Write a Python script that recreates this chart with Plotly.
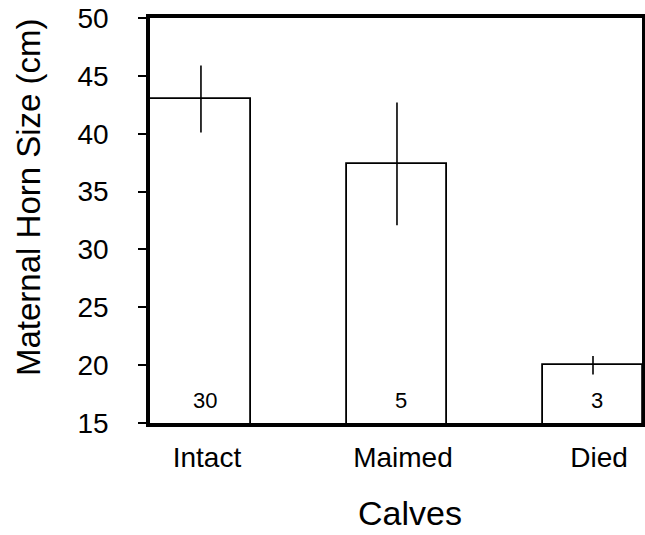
import plotly.graph_objects as go

categories = ["Intact", "Maimed", "Died"]
positions = [0, 1, 2]
horn_size = [43.0, 37.4, 20.0]
horn_err = [2.9, 5.3, 0.8]
counts = [30, 5, 3]
y_ticks = [15, 20, 25, 30, 35, 40, 45, 50]

FONT = "Liberation Sans, Arial, sans-serif"

fig = go.Figure()
fig.add_trace(go.Bar(
    x=positions, y=horn_size, width=0.515,
    marker=dict(color="white", line=dict(color="black", width=1.8)),
    error_y=dict(type="data", array=horn_err, visible=True, width=0,
                 thickness=1.6, color="black"),
))

for xp, n in zip(positions, counts):
    fig.add_annotation(x=xp, y=15, xref="x", yref="y", text=str(n),
                       showarrow=False, yanchor="bottom", yshift=8, xshift=4,
                       font=dict(family=FONT, size=22, color="black"))

fig.add_annotation(x=-0.248, y=0.558, xref="paper", yref="paper",
                   text="Maternal Horn Size (cm)", textangle=-90, showarrow=False,
                   xanchor="center", yanchor="middle",
                   font=dict(family=FONT, size=33, color="black"))
fig.add_annotation(x=0.528, y=-0.222, xref="paper", yref="paper",
                   text="Calves", showarrow=False, xanchor="center", yanchor="middle",
                   font=dict(family=FONT, size=34, color="black"))

fig.update_layout(
    width=645, height=535,
    margin=dict(l=150, r=3, t=18, b=112, autoexpand=False),
    paper_bgcolor="white", plot_bgcolor="white",
    showlegend=False,
    bargap=0,
)
fig.update_xaxes(
    range=[-0.26, 2.25], tickmode="array", tickvals=positions, ticktext=categories,
    showline=True, linecolor="black", linewidth=3.5, mirror=True,
    showgrid=False, zeroline=False, ticks="", ticklabelstandoff=7, ticklabelshift=6,
    automargin=False,
    tickfont=dict(family=FONT, size=28, color="black"),
)
fig.update_yaxes(
    range=[15, 50], tickmode="array", tickvals=y_ticks,
    showline=True, linecolor="black", linewidth=3.5, mirror=True,
    showgrid=False, zeroline=False, ticks="outside", ticklen=8, tickwidth=2,
    tickcolor="black", ticklabelstandoff=24, automargin=False,
    tickfont=dict(family=FONT, size=28, color="black"),
)

fig.write_html(
    "out.html",
    config={"displayModeBar": False},
    post_script="document.body.style.margin='0px';document.body.style.overflow='hidden';",
)
